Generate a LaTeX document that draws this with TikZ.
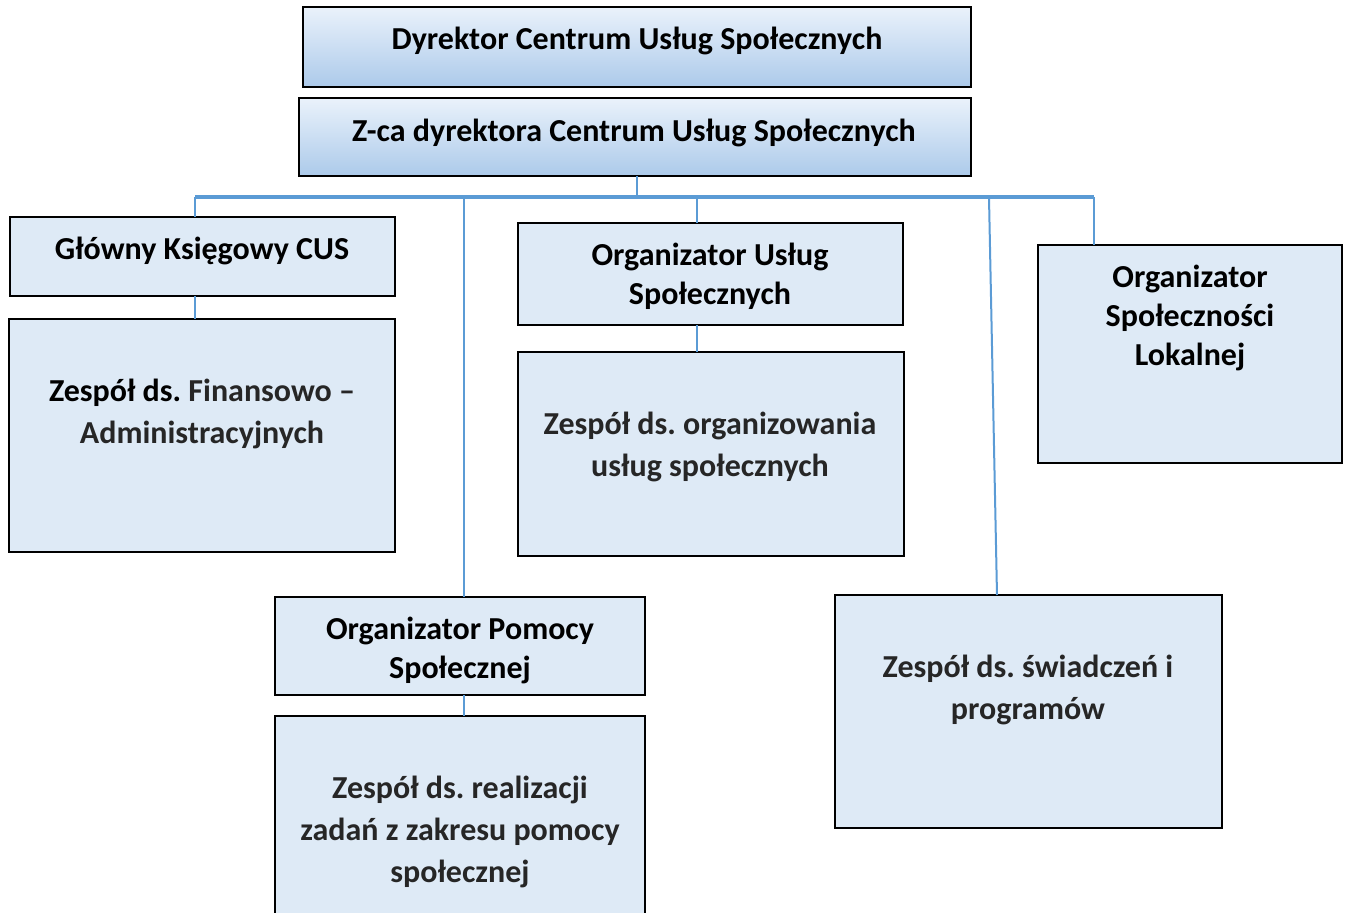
\documentclass[tikz,border=0pt]{standalone}
\usepackage{fontspec}
\setmainfont{Carlito}
\usetikzlibrary{positioning}
\frenchspacing

\definecolor{linkblue}{RGB}{91,155,213}
\definecolor{boxfill}{RGB}{222,234,246}
\definecolor{gradtop}{RGB}{234,242,251}
\definecolor{gradbot}{RGB}{172,202,234}
\definecolor{txtgray}{RGB}{38,38,38}

\tikzset{
  unit/.style = {draw=black, line width=1pt, fill=boxfill,
    rectangle, anchor=north west, inner sep=0pt, outer sep=0pt},
  head/.style = {unit, top color=gradtop, bottom color=gradbot},
  caption/.style = {font=\bfseries\fontsize{16}{19.5}\selectfont,
    align=center, inner sep=0pt},
  team/.style = {caption, text=txtgray,
    font=\bfseries\fontsize{16}{21}\selectfont},
  bus/.style = {draw=linkblue, line width=2pt},
  link/.style = {draw=linkblue, line width=1pt}
}

\begin{document}
\begin{tikzpicture}[x=0.5pt, y=-0.5pt]
    \useasboundingbox (0,0) rectangle (1346,913);
    % management
    \node[head, minimum width=334pt, minimum height=40pt] (dyr) at (303,7) {};
    \node[head, minimum width=336pt, minimum height=39pt] (zca) at (299,98) {};
    \node[caption] (dyr-t) at (637,41) {Dyrektor Centrum Usług Społecznych};
    \node[caption] (zca-t) at (634,133) {Z-ca dyrektora Centrum Usług Społecznych};
    % units
    \node[unit, minimum width=192.5pt, minimum height=39.5pt] (gk) at (10,217) {};
    \node[unit, minimum width=193pt, minimum height=116.5pt] (fin) at (9,319) {};
    \node[unit, minimum width=192.5pt, minimum height=51pt] (ou) at (518,223) {};
    \node[unit, minimum width=193pt, minimum height=102pt] (zo) at (518,352) {};
    \node[unit, minimum width=152pt, minimum height=109pt] (osl) at (1038,245) {};
    \node[unit, minimum width=185pt, minimum height=49pt] (op) at (275,597) {};
    \node[unit, minimum width=185pt, minimum height=110pt] (zr) at (275,716) {};
    \node[unit, minimum width=193.5pt, minimum height=116.5pt] (zs) at (835,595) {};
    % texts
    \node[caption] (gk-t) at (202,251) {Główny Księgowy CUS};
    \node[team] (fin-t) at (202,414) {\textcolor{black}{Zespół ds.} Finansowo –\\Administracyjnych};
    \node[caption] (ou-t) at (710,276) {Organizator Usług\\Społecznych};
    \node[team] (zo-t) at (710,447) {Zespół ds. organizowania\\usług społecznych};
    \node[caption] (osl-t) at (1190,318) {Organizator\\Społeczności\\Lokalnej};
    \node[caption] (op-t) at (460,650) {Organizator Pomocy\\Społecznej};
    \node[team] (zr-t) at (460,832) {Zespół ds. realizacji\\zadań z zakresu pomocy\\społecznej};
    \node[team] (zs-t) at (1028,690) {Zespół ds. świadczeń i\\programów};
    % connectors
    \coordinate (j0) at (637,197.5);
    \coordinate (j1) at (195,197.5);
    \coordinate (j2) at (464,197.5);
    \coordinate (j3) at (697,197.5);
    \coordinate (j4) at (989,197.5);
    \coordinate (j5) at (1094,197.5);
    \draw[link, line width=0.6pt] (zca.south -| j0) -- (j0);
    \draw[link] (j1) -- (j1 |- gk.north);
    \draw[link] (j1 |- gk.south) -- (j1 |- fin.north);
    \draw[link] (j2) -- (j2 |- op.north);
    \draw[link] (j2 |- op.south) -- (j2 |- zr.north);
    \draw[link] (j3) -- (j3 |- ou.north);
    \draw[link] (j3 |- ou.south) -- (j3 |- zo.north);
    \draw[link] (j4) -- ([xshift=81pt]zs.north west);
    \draw[link] (j5) -- (j5 |- osl.north);
    \draw[bus] (j1) -- (j5);
\end{tikzpicture}
\end{document}
